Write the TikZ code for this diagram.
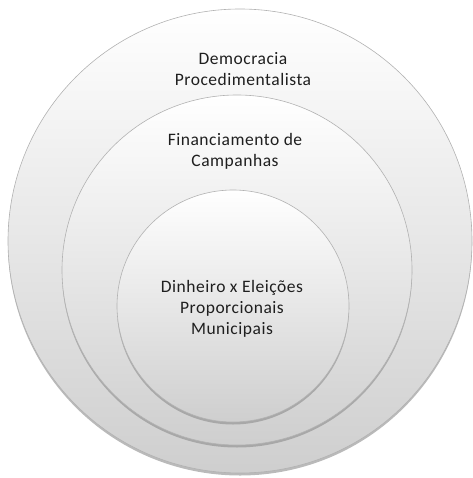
\documentclass[tikz,border=0pt]{standalone}
\usepackage{fontspec}
\setmainfont{Carlito}
\newfontfamily\ringfont[LetterSpace=3]{Carlito}
\usepackage{tikz}
\usetikzlibrary{shadows, positioning}

\begin{document}
\begin{tikzpicture}[x=1pt, y=-1pt,
    ring/.style={circle, draw=gray!60, line width=.6pt, top color=white, middle color=white, bottom color=gray!38,
        drop shadow={shadow xshift=0pt, shadow yshift=-2.5pt, fill=gray!90, opacity=.6}},
    ringtext/.style={align=center, font=\ringfont\fontsize{17.5}{21}\selectfont, text=black!88}]
  \useasboundingbox (0,0) rectangle (472,478);
  % nested circles, largest first
  \node[ring, minimum size=464pt] (democracia) at (240,241) {};
  \node[ring, minimum size=350pt] (financiamento) at (237,270) {};
  \node[ring, minimum size=232pt] (dinheiro) at (233,306) {};
  % texts
  \node[ringtext] (democraciatext) at (243,69) {Democracia\\Procedimentalista};
  \node[ringtext] (financiamentotext) at (235,151) {Financiamento de\\Campanhas};
  \node[ringtext] (dinheirotext) at (232,309) {Dinheiro x Eleições\\Proporcionais\\Municipais};
\end{tikzpicture}
\end{document}
